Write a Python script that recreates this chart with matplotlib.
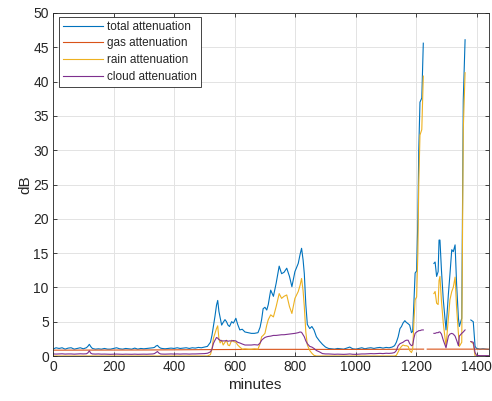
import numpy as np
import matplotlib
matplotlib.use("Agg")
import matplotlib.pyplot as plt

nan = np.nan

minutes = [
    0, 10, 20, 30, 40, 50, 60, 70, 80, 90, 100, 110, 115, 120, 125, 130, 140, 150, 160, 170,
    180, 190, 200, 210, 220, 230, 240, 250, 260, 270, 280, 290, 300, 310, 320, 330, 335, 340,
    345, 350, 355, 360, 370, 380, 390, 400, 410, 420, 430, 440, 450, 460, 470, 480, 490,
    500, 510, 520, 525, 530, 535, 540, 544, 548, 552, 557, 562, 568, 573, 578, 583, 590, 596,
    604, 610, 617, 625, 634, 645, 655, 665, 677, 684, 689, 694, 700, 706, 711, 719, 728, 737,
    747, 755, 763, 772, 781, 789, 799, 810, 816, 821, 826, 830, 835, 840, 848, 855, 862, 870,
    880, 890, 900, 910,
    920, 930, 940, 950, 960, 970, 980, 990, 1000, 1010, 1020, 1030, 1040, 1050, 1060, 1070,
    1080, 1090, 1100, 1110, 1120,
    1128, 1134, 1140, 1146, 1151, 1156, 1162, 1167, 1173, 1178, 1184, 1188, 1192, 1196, 1201,
    1205, 1208, 1212, 1218, 1223, 1240,
    1258, 1262, 1267, 1272, 1275, 1278, 1283, 1289, 1298, 1306, 1311, 1317, 1322, 1328, 1333,
    1339, 1342, 1350, 1355, 1361, 1370,
    1380, 1385, 1388, 1394, 1399, 1410, 1420, 1430, 1440,
]

total_att = [
    1.0, 1.2, 1.1, 1.2, 1.0, 1.15, 1.2, 1.0, 1.1, 1.2, 1.05, 1.2, 1.4, 1.7, 1.35, 1.1, 1.0, 1.05, 1.0, 1.1,
    1.0, 1.0, 1.1, 1.2, 1.05, 1.0, 1.1, 1.05, 1.0, 1.15, 1.0, 1.1, 1.05, 1.1, 1.15, 1.2, 1.25, 1.45,
    1.55, 1.3, 1.15, 1.1, 1.05, 1.1, 1.15, 1.1, 1.2, 1.1, 1.15, 1.2, 1.1, 1.2, 1.15, 1.25, 1.2,
    1.3, 1.4, 2.0, 3.0, 4.4, 5.8, 7.4, 8.1, 6.5, 5.6, 4.5, 4.9, 5.3, 5.0, 4.5, 4.3, 5.0, 4.8,
    5.5, 4.6, 3.8, 3.9, 3.5, 3.4, 3.3, 3.3, 3.4, 4.2, 5.3, 6.9, 7.1, 6.7, 7.5, 9.6, 8.7, 10.6,
    13.1, 12.0, 12.2, 12.8, 11.6, 10.1, 12.3, 13.5, 14.8, 15.7, 14.0, 12.0, 7.5, 4.6, 4.0, 4.3, 3.8, 2.8,
    2.2, 1.7, 1.3, 1.1,
    1.05, 1.0, 1.1, 1.05, 1.0, 1.15, 1.3, 1.05, 1.0, 1.1, 1.2, 1.05, 1.15, 1.2, 1.1, 1.2,
    1.25, 1.15, 1.25, 1.2, 1.3,
    1.5, 2.0, 2.8, 4.0, 4.3, 4.8, 5.15, 4.9, 4.7, 4.5, 3.4, 3.6, 8.0, 12.1, 12.4,
    20.0, 30.0, 37.0, 37.6, 45.6, nan,
    13.5, 13.7, 11.6, 12.3, 16.9, 16.9, 12.5, 8.2, 3.8, 9.1, 11.9, 15.5, 15.2, 16.2, 10.5,
    5.5, 4.3, 5.5, 37.3, 46.1, nan,
    5.25, 5.1, 5.0, 1.4, 1.1, 1.0, 1.05, 1.0, 0.95,
]

rain_att = [
    0.0] * 55 + [
    0.0, 0.0, 0.2, 1.0, 2.6, 3.3, 4.0, 4.4, 2.5, 1.9, 2.3, 1.6, 2.0, 2.3, 1.6, 1.5, 2.3, 2.1,
    2.0, 1.6, 1.3, 1.0, 1.05, 1.0, 1.0, 1.05, 1.0, 1.8, 2.8, 3.0, 3.3, 4.5, 5.3, 6.0, 5.7, 7.2,
    9.1, 8.4, 8.7, 8.9, 7.2, 6.2, 8.4, 9.4, 10.3, 11.3, 9.5, 7.2, 3.5, 1.6, 0.8, 0.4, 0.1, 0.0,
    0.0, 0.0, 0.0, 0.0,
    0.0, 0.0, 0.0, 0.0, 0.0, 0.0, 0.0, 0.0, 0.0, 0.0, 0.0, 0.0, 0.0, 0.0, 0.0, 0.0,
    0.0, 0.0, 0.0, 0.0, 0.0,
    0.0, 0.1, 0.6, 1.1, 1.4, 1.6, 1.5, 1.5, 1.4, 0.8, 0.5, 1.0, 5.0, 8.2, 8.6,
    15.0, 25.0, 32.2, 33.0, 40.8, nan,
    9.1, 9.4, 7.7, 7.5, 11.0, 11.6, 8.0, 4.8, 1.4, 5.5, 8.2, 9.4, 10.0, 11.5, 7.0,
    3.3, 1.4, 2.0, 33.0, 41.3, nan,
    2.1, 1.9, 1.8, 0.0, 0.0, 0.0, 0.0, 0.0, 0.0,
]

cloud_att = [
    0.3, 0.28, 0.3, 0.32, 0.28, 0.3, 0.3, 0.27, 0.3, 0.32, 0.3, 0.32, 0.45, 0.75, 0.4, 0.3, 0.28, 0.3, 0.27, 0.28,
    0.26, 0.25, 0.27, 0.28, 0.26, 0.25, 0.27, 0.26, 0.25, 0.27, 0.25, 0.26, 0.27, 0.26, 0.28, 0.3, 0.35, 0.5,
    0.65, 0.42, 0.3, 0.28, 0.27, 0.28, 0.3, 0.28, 0.3, 0.28, 0.3, 0.3, 0.28, 0.3, 0.3, 0.32, 0.33,
    0.35, 0.4, 0.6, 1.0, 1.85, 2.3, 2.7, 2.6, 2.4, 2.3, 2.2, 2.2, 2.2, 2.25, 2.15, 2.2, 2.2, 2.25,
    2.2, 2.0, 1.9, 1.75, 1.6, 1.6, 1.6, 1.65, 1.6, 1.9, 2.3, 2.5, 2.7, 2.8, 2.85, 2.9, 3.0, 3.0,
    3.05, 3.1, 3.1, 3.15, 3.2, 3.25, 3.3, 3.4, 3.5, 3.45, 3.1, 2.8, 2.2, 1.8, 1.4, 1.3, 1.1, 0.8,
    0.6, 0.35, 0.3, 0.3,
    0.28, 0.25, 0.27, 0.25, 0.24, 0.26, 0.3, 0.25, 0.24, 0.27, 0.3, 0.3, 0.33, 0.35, 0.33, 0.36,
    0.38, 0.35, 0.4, 0.38, 0.42,
    0.5, 0.8, 1.5, 1.8, 1.9, 2.0, 2.2, 2.3, 2.3, 1.8, 1.5, 1.6, 2.6, 3.3, 3.5,
    3.6, 3.7, 3.7, 3.8, 3.8, nan,
    3.3, 3.3, 3.4, 3.4, 3.5, 3.5, 3.2, 2.3, 1.2, 2.9, 3.2, 3.3, 3.2, 2.9, 2.3,
    1.5, 2.9, 3.3, 3.5, 3.8, nan,
    2.1, 2.05, 2.0, 0.5, 0.1, 0.05, 0.05, 0.05, 0.05,
]

gas_minutes = [0, 100, 200, 300, 400, 500, 600, 700, 800, 900, 1000, 1100, 1200, 1224, 1230, 1236, 1300, 1400, 1440]
gas_att = [0.85, 0.86, 0.87, 0.88, 0.9, 0.93, 0.95, 0.97, 0.97, 0.96, 0.96, 0.97, 1.0, 1.0, nan, 1.0, 1.0, 1.0, 1.0]

labels = ["total attenuation", "gas attenuation", "rain attenuation", "cloud attenuation"]
colors = ["#0072BD", "#D95319", "#EDB120", "#7E2F8E"]
xticks = list(range(0, 1401, 200))
yticks = list(range(0, 51, 5))

plt.rcParams['font.family'] = ['Liberation Sans', 'DejaVu Sans']
txt = '#262626'

fig = plt.figure(figsize=(4.92, 4.01), dpi=100)
ax = fig.add_axes([53 / 492, 45 / 401, 436 / 492, 343 / 401])

lw = 0.8
ax.plot(minutes, total_att, color=colors[0], lw=lw, label=labels[0])
ax.plot(gas_minutes, gas_att, color=colors[1], lw=lw, label=labels[1])
ax.plot(minutes, rain_att, color=colors[2], lw=lw, label=labels[2])
ax.plot(minutes, cloud_att, color=colors[3], lw=lw, label=labels[3])

ax.set_xlim(0, 1440)
ax.set_ylim(0, 50)
ax.set_xticks(xticks)
ax.set_yticks(yticks)
ax.grid(True, color='#e3e3e3', lw=0.7)
ax.set_axisbelow(True)
ax.tick_params(direction='in', length=3, width=0.6, colors=txt, labelsize=10,
               top=True, right=True, labelcolor=txt, pad=3)
for s in ax.spines.values():
    s.set_color(txt)
    s.set_linewidth(0.6)
ax.set_xlabel("minutes", fontsize=11, color=txt)
ax.set_ylabel("dB", fontsize=11, color=txt)
ax.xaxis.set_label_coords((255 - 53) / 436, -(385 - 356) / 343)
ax.yaxis.set_label_coords(-(53 - 25) / 436, 0.5)
ax.xaxis.label.set_va('center')
ax.yaxis.label.set_va('center')

leg = ax.legend(loc='upper left', bbox_to_anchor=(6 / 436, 1 - 3.5 / 343), borderaxespad=0,
                fontsize=8.5, labelspacing=0.4, handlelength=3.4, handletextpad=0.35,
                borderpad=0.35, fancybox=False, framealpha=1, edgecolor=txt)
leg.get_frame().set_linewidth(0.6)
for t in leg.get_texts():
    t.set_color(txt)

fig.savefig("out.png", dpi=100)
